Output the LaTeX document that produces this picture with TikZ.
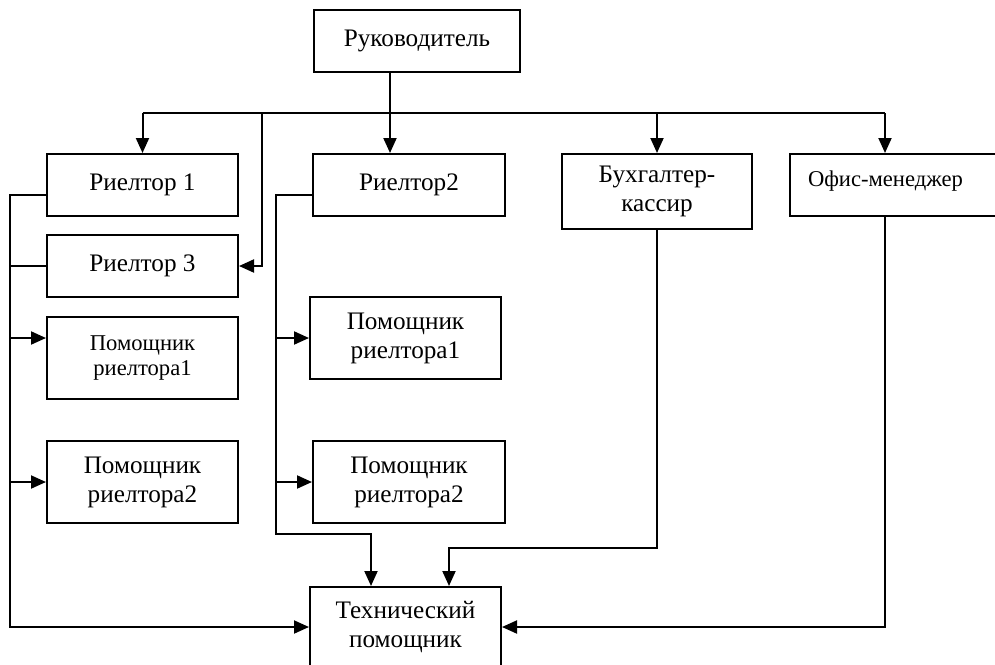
\documentclass[tikz,border=0pt]{standalone}
\usepackage{fontspec}
\setmainfont{Liberation Serif}
\usetikzlibrary{arrows.meta}
\newcommand{\mainsize}{\fontsize{12.6}{14.5}\selectfont}
\newcommand{\smallsize}{\fontsize{11.3}{13}\selectfont}

\begin{document}
\begin{tikzpicture}[x=0.5pt, y=-0.5pt,
  box/.style={draw, line width=1pt, minimum width=95.5pt, minimum height=31pt, inner sep=2pt, align=center, font=\mainsize},
  tall/.style={box, minimum height=41pt},
  link/.style={line width=1pt},
  arr/.style={link, -{Triangle[length=7.5pt, width=6.5pt]}}]
  \useasboundingbox (0,0) rectangle (995,664);
  \clip (0,0) rectangle (995,664);

  % Head
  \node[box, minimum width=103pt] (boss) at (417,41) {\raisebox{1.5pt}{Руководитель}};

  % Second row
  \node[box] (r1) at (142.5,185) {Риелтор 1};
  \node[box, minimum width=96pt] (r2) at (409,185) {Риелтор2};
  \node[box, minimum width=95pt, minimum height=37.5pt, text depth=3pt] (acc) at (657,191.5) {Бухгалтер-\\кассир};
  \node[box, minimum width=105pt, text width=87pt, inner xsep=9pt, align=left, font=\smallsize] (off) at (895,185) {\raisebox{6pt}{Офис-менеджер}};

  % Left column
  \node[box] (r3) at (142.5,266) {Риелтор 3};
  \node[tall, font=\smallsize] (pl1) at (142.5,358) {Помощник\\риелтора1};
  \node[tall] (pl2) at (142.5,482) {Помощник\\риелтора2};

  % Middle column
  \node[tall] (pr1) at (405.5,338) {Помощник\\риелтора1};
  \node[tall, minimum width=96pt] (pr2) at (409,482) {Помощник\\риелтора2};
  \node[tall, minimum height=40pt] (tech) at (405.5,627) {Технический\\помощник};

  % Junctions
  \coordinate (top) at (390,113);
  \coordinate (ox) at (885,113);
  \coordinate (br) at (262,113);
  \coordinate (lx) at (10,400);
  \coordinate (mx) at (276,400);
  \coordinate (t1) at (371,534);
  \coordinate (t2) at (449,548);
  \coordinate (q1) at ([yshift=-5pt]r1.west);
  \coordinate (q2) at ([yshift=-5pt]r2.west);
  \coordinate (p1) at ([yshift=10pt]pl1.west);

  % Bus from the head
  \draw[link] (boss.south -| top) -- (top);
  \draw[link] (r1.north |- top) -- (ox);
  \draw[arr] (top) -- (r2.north -| top);
  \draw[arr] (r1.north |- top) -- (r1.north);
  \draw[arr] (acc.north |- top) -- (acc.north);
  \draw[arr] (ox) -- (off.north -| ox);
  \draw[arr] (br) |- (r3.east);

  % Left branch
  \draw[arr] (q1) -| (lx) |- (tech.west);
  \draw[link] (r3.west) -- (r3.west -| lx);
  \draw[arr] (p1 -| lx) -- (p1);
  \draw[arr] (pl2.west -| lx) -- (pl2.west);

  % Middle branch
  \draw[arr] (q2) -| (mx) |- (t1) -- (t1 |- tech.north);
  \draw[arr] (pr1.west -| mx) -- (pr1.west);
  \draw[arr] (pr2.west -| mx) -- (pr2.west);

  % Right side
  \draw[arr] (acc.south) |- (t2) -- (t2 |- tech.north);
  \draw[arr] (off.south -| ox) |- (tech.east);
\end{tikzpicture}
\end{document}
